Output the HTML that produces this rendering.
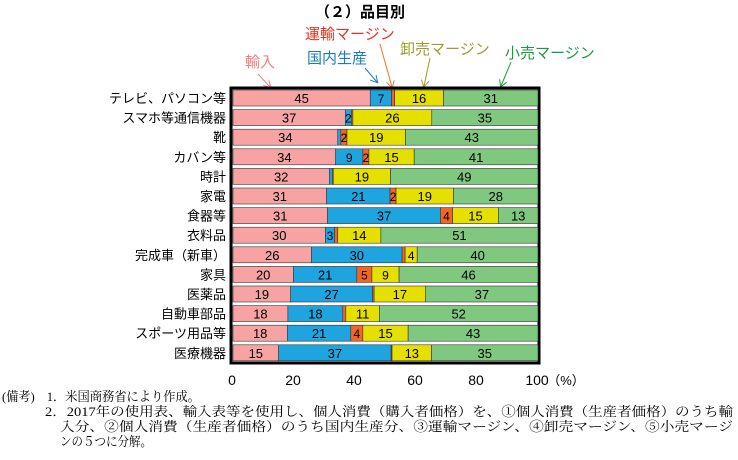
<!DOCTYPE html>
<html><head><meta charset="utf-8"><style>
body{margin:0;background:#fff;width:738px;height:455px;overflow:hidden}
svg text{font-family:"Liberation Sans","Noto Sans CJK JP",sans-serif}
.n{font-family:"Liberation Serif","Noto Serif CJK JP",serif;font-size:13px}
</style></head><body>
<svg width="738" height="455" xmlns="http://www.w3.org/2000/svg">
<defs>
<marker id="a1" markerWidth="8" markerHeight="8" refX="6" refY="4" orient="auto"><path d="M0,0 L7,4 L0,8" fill="none" stroke="#f08080" stroke-width="1"/></marker>
<marker id="a2" markerWidth="8" markerHeight="8" refX="6" refY="4" orient="auto"><path d="M0,0 L7,4 L0,8" fill="none" stroke="#1a7cc0" stroke-width="1"/></marker>
<marker id="a3" markerWidth="8" markerHeight="8" refX="6" refY="4" orient="auto"><path d="M0,0 L7,4 L0,8" fill="none" stroke="#f07030" stroke-width="1"/></marker>
<marker id="a4" markerWidth="8" markerHeight="8" refX="6" refY="4" orient="auto"><path d="M0,0 L7,4 L0,8" fill="none" stroke="#a09a2a" stroke-width="1"/></marker>
<marker id="a5" markerWidth="8" markerHeight="8" refX="6" refY="4" orient="auto"><path d="M0,0 L7,4 L0,8" fill="none" stroke="#1a9a40" stroke-width="1"/></marker>
</defs>
<text x="360" y="17" font-size="15" font-weight="bold" text-anchor="middle">（２）品目別</text>
<text x="305" y="39" font-size="15" fill="#e8321e">運輸マージン</text>
<text x="307" y="63" font-size="15" fill="#1a7cc0">国内生産</text>
<text x="245" y="67" font-size="15" fill="#f08080">輸入</text>
<text x="400" y="54" font-size="15" fill="#a09a2a">卸売マージン</text>
<text x="505" y="58" font-size="15" fill="#1a9a40">小売マージン</text>
<line x1="258" y1="74" x2="270" y2="87" stroke="#f08080" marker-end="url(#a1)"/>
<line x1="365" y1="68" x2="377" y2="82" stroke="#1a7cc0" marker-end="url(#a2)"/>
<line x1="380" y1="44" x2="392" y2="87" stroke="#f07030" marker-end="url(#a3)"/>
<line x1="430" y1="58" x2="424" y2="86" stroke="#a09a2a" marker-end="url(#a4)"/>
<line x1="511" y1="62" x2="501" y2="86" stroke="#1a9a40" marker-end="url(#a5)"/>
<rect x="231" y="88" width="308" height="275" fill="#fff" stroke="#000" stroke-width="3"/>
<g id="bars"></g>
<g font-size="14" text-anchor="middle">
<text x="232" y="385">0</text><text x="293" y="385">20</text><text x="354" y="385">40</text><text x="415" y="385">60</text><text x="476" y="385">80</text><text x="537" y="385">100</text><text x="566" y="385" font-size="13">（%）</text>
</g>
<text class="n" x="2" y="401" textLength="198" lengthAdjust="spacingAndGlyphs">(備考)　1．米国商務省により作成。</text>
<text class="n" x="45" y="416" textLength="688" lengthAdjust="spacingAndGlyphs">2．2017年の使用表、輸入表等を使用し、個人消費（購入者価格）を、①個人消費（生産者価格）のうち輸</text>
<text class="n" x="60" y="431" textLength="673" lengthAdjust="spacingAndGlyphs">入分、②個人消費（生産者価格）のうち国内生産分、③運輸マージン、④卸売マージン、⑤小売マージ</text>
<text class="n" x="60" y="446" textLength="92" lengthAdjust="spacingAndGlyphs">ンの５つに分解。</text>
</svg>
<script>
const rows=[["テレビ、パソコン等",[45,7,1,16,31]],["スマホ等通信機器",[37,2,0.5,26,35]],["靴",[34,1,2,19,43]],["カバン等",[34,9,2,15,41]],["時計",[32,1,0.3,19,49]],["家電",[31,21,2,19,28]],["食器等",[31,37,4,15,13]],["衣料品",[30,3,1,14,51]],["完成車（新車）",[26,30,1,4,40]],["家具",[20,21,5,9,46]],["医薬品",[19,27,0.5,17,37]],["自動車部品",[18,18,1,11,52]],["スポーツ用品等",[18,21,4,15,43]],["医療機器",[15,37,0.3,13,35]]];
const cols=["#f7a3a3","#1ea5e0","#f26522","#e6e000","#80c880"];
let s="";
rows.forEach((r,i)=>{const cy=98+i*19.6,y=cy-8;const tot=r[1].reduce((a,b)=>a+b,0);let x=233;
s+=`<text x="226" y="${cy+5}" font-size="13" text-anchor="end">${r[0]}</text>`;
r[1].forEach((v,j)=>{const w=v/tot*305;s+=`<rect x="${x}" y="${y}" width="${w}" height="16" fill="${cols[j]}" stroke="#333" stroke-width="0.6"/>`;
if(v>=2)s+=`<text x="${x+w/2}" y="${cy+5}" font-size="${v<10?12:13}" text-anchor="middle">${v}</text>`;x+=w;});});
document.getElementById("bars").innerHTML=s;
</script>
</body></html>
